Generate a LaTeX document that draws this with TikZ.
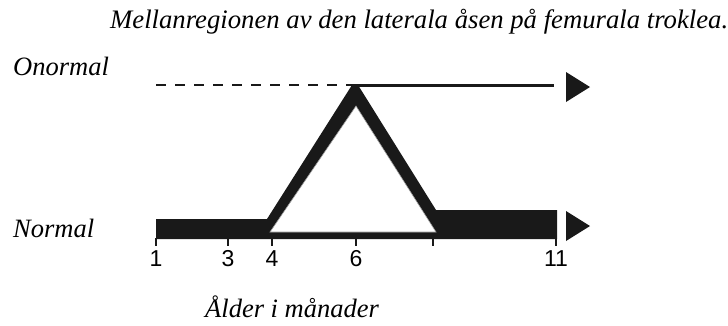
\documentclass[tikz,border=0pt]{standalone}
\usepackage{fontspec}
\setmainfont{Liberation Serif}
\newfontfamily\digitfont{Liberation Sans}
\usepackage{tikz}
\usetikzlibrary{positioning}

\begin{document}
\begin{tikzpicture}[
  x=1pt, y=-1pt,
  every node/.style={inner sep=0pt},
  lbl/.style={font=\fontsize{26.5}{30}\selectfont\itshape, anchor=base west},
  num/.style={font=\fontsize{23}{26}\selectfont\digitfont, anchor=base},
  band/.style={fill=black!90, draw=none},
  tick/.style={line width=2pt, black!90},
  tip/.style={fill=black!90, draw=none},
]
\useasboundingbox (0,0) rectangle (728,325);
% texts
\node[lbl, font=\fontsize{26.7}{30}\selectfont\itshape] (title) at (110,28) {Mellanregionen av den laterala åsen på femurala troklea.};
\node[lbl] (onorm) at (13,75) {Onormal};
\node[lbl] (norm) at (13,237) {Normal};
\node[lbl] (age) at (205,317) {Ålder i månader};
% key points
\coordinate (d0) at (156,85);
\coordinate (top) at (354,85);
\coordinate (d1) at (554,85);
% upper line
\draw[line width=2.3pt, dash pattern=on 10pt off 9pt, black!90] (d0) -- (top);
\draw[line width=3pt, black!90] (top) -- (d1);
\fill[tip] (566,72) -- (590,87) -- (566,102) -- cycle;
% bar with peak
\fill[band] (156,219) -- (267,219) -- (352,85) -- (358,85) -- (436,210) -- (557,210)
  -- (557,239) -- (156,239) -- cycle;
\filldraw[fill=white, draw=black!40, line width=0.6pt] (270,232) -- (356,106) -- (436,232) -- cycle;
\fill[tip] (566,211) -- (590,226) -- (566,241) -- cycle;
% axis ticks
\foreach \x/\t in {156/1, 228/3, 272/4, 356/6, 433/, 556/11} {
  \draw[tick] (\x,238) -- (\x,246);
  \node[num] at (\x,266) {\t};
}
\end{tikzpicture}
\end{document}
